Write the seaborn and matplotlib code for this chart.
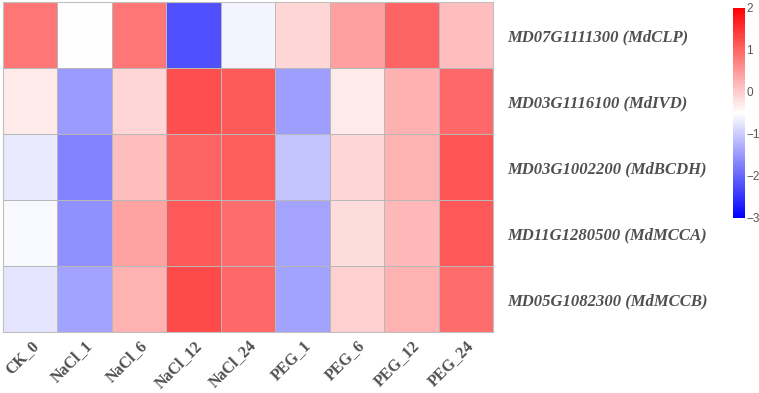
import matplotlib
matplotlib.use("Agg")
import matplotlib.pyplot as plt
import seaborn as sns
import pandas as pd
import numpy as np

genes = ["MD07G1111300 (MdCLP)", "MD03G1116100 (MdIVD)", "MD03G1002200 (MdBCDH)",
         "MD11G1280500 (MdMCCA)", "MD05G1082300 (MdMCCB)"]
samples = ["CK_0", "NaCl_1", "NaCl_6", "NaCl_12", "NaCl_24", "PEG_1", "PEG_6", "PEG_12", "PEG_24"]

row_clp = [0.83, -0.5, 0.83, -2.2, -0.6, -0.1, 0.43, 1.02, 0.14]
row_ivd = [-0.3, -1.48, -0.1, 1.22, 1.12, -1.45, -0.3, 0.28, 0.97]
row_bcdh = [-0.7, -1.73, 0.14, 1.02, 1.07, -1.08, -0.1, 0.25, 1.17]
row_mcca = [-0.57, -1.58, 0.40, 1.14, 0.93, -1.38, -0.15, 0.2, 1.14]
row_mccb = [-0.77, -1.4, 0.25, 1.26, 0.97, -1.4, -0.05, 0.25, 0.93]

df = pd.DataFrame([row_clp, row_ivd, row_bcdh, row_mcca, row_mccb], index=genes, columns=samples)

W, H = 759, 393
fig = plt.figure(figsize=(W / 100, H / 100), dpi=100)
ax = fig.add_axes([3 / W, 1 - 332 / H, 490 / W, 330 / H])
cax = fig.add_axes([733 / W, 1 - 218 / H, 12 / W, 210 / H])

sns.heatmap(df, cmap="bwr", vmin=-3, vmax=2, linewidths=0.7, linecolor="#b8b8b8",
            ax=ax, cbar_ax=cax, cbar_kws={"ticks": [2, 1, 0, -1, -2, -3]})

for s in ax.spines.values():
    s.set_visible(True)
    s.set_color("#c0c0c0")
    s.set_linewidth(0.8)

ax.yaxis.tick_right()
ax.set_yticklabels(genes, rotation=0, ha="left", fontfamily="Liberation Serif",
                   fontweight="bold", fontstyle="italic", fontsize=12, color="#505050")
ax.set_xticklabels(samples, rotation=45, ha="right", rotation_mode="anchor",
                   fontfamily="Liberation Serif", fontweight="bold", fontsize=11.5, color="#505050")
ax.tick_params(axis="y", length=0, pad=10)
ax.tick_params(axis="x", length=0, pad=4)
ax.set_xlabel("")
ax.set_ylabel("")

cbar = ax.collections[0].colorbar
cbar.outline.set_visible(False)
cbar.ax.tick_params(length=0, pad=1, labelsize=8.5, labelcolor="#555555")
for t in cbar.ax.get_yticklabels():
    t.set_fontfamily("Liberation Sans")

fig.savefig("out.png", dpi=100)
